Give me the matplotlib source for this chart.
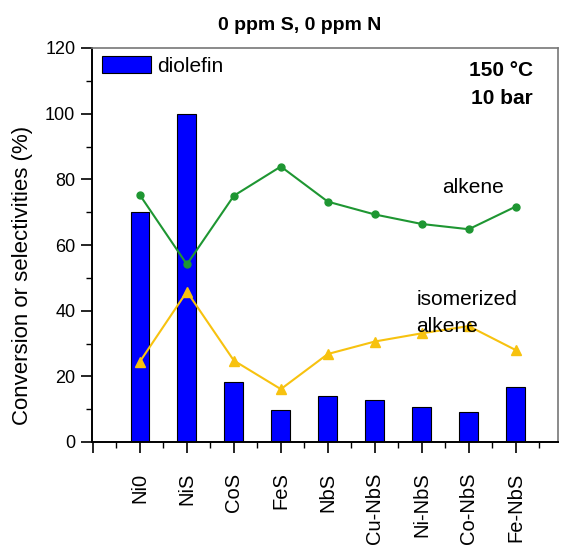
import matplotlib
matplotlib.use("Agg")
import matplotlib.pyplot as plt
import numpy as np

catalysts = ["Ni0", "NiS", "CoS", "FeS", "NbS", "Cu-NbS", "Ni-NbS", "Co-NbS", "Fe-NbS"]
diolefin = [70.0, 99.9, 18.4, 9.7, 14.0, 12.8, 10.8, 9.0, 16.7]
alkene = [75.2, 54.1, 75.0, 83.9, 73.2, 69.3, 66.4, 64.8, 71.7]
isomerized = [24.5, 45.8, 24.8, 16.1, 26.8, 30.6, 33.1, 35.3, 28.0]

plt.rcParams["font.family"] = ["Liberation Sans", "DejaVu Sans"]

W, H = 563, 546
fig = plt.figure(figsize=(W / 100, H / 100), dpi=100)
ax = fig.add_axes([92 / W, 1 - 442 / H, (558 - 92) / W, (442 - 48) / H])

x = np.arange(len(catalysts))
ax.bar(x, diolefin, width=0.4, color="#0000FF", edgecolor="black", linewidth=0.8,
       label="diolefin", zorder=2)
ax.plot(x, alkene, color="#1E9632", marker="o", markersize=5, linewidth=1.5, zorder=3)
ax.plot(x, isomerized, color="#F7C20F", marker="^", markersize=7, linewidth=1.5, zorder=3)

ax.set_xlim(-1.02, 8.9)
ax.set_ylim(0, 120)
ax.set_yticks(np.arange(0, 121, 20))
ax.set_yticks(np.arange(10, 120, 20), minor=True)
ax.set_xticks(np.arange(-1, 9))
ax.set_xticklabels([""] + catalysts, rotation=90, fontsize=14.5)
ax.set_xticks(np.arange(-0.5, 8.9, 1.0), minor=True)
ax.tick_params(axis="y", labelsize=13, direction="out", length=8, width=1.2, pad=4)
ax.tick_params(axis="y", which="minor", direction="out", length=4, width=1)
ax.tick_params(axis="x", direction="out", length=8, width=1.2, pad=14)
ax.tick_params(axis="x", which="minor", direction="out", length=4, width=1)

for side in ("left", "bottom"):
    ax.spines[side].set_linewidth(1.4)
for side in ("top", "right"):
    ax.spines[side].set_color("#777777")
    ax.spines[side].set_linewidth(1.2)

ax.set_ylabel("Conversion or selectivities (%)", fontsize=16)
ax.yaxis.set_label_coords(-0.127, 0.424)

fig.text(300 / W, 1 - 25 / H, "0 ppm S, 0 ppm N", fontsize=14, fontweight="bold",
         ha="center", va="center")

ax.legend(loc="upper left", bbox_to_anchor=(0.012, 0.99), frameon=False, fontsize=15,
          handlelength=2.35, handleheight=0.9, borderpad=0.2, borderaxespad=0,
          handletextpad=0.3)

ax.text(0.946, 0.928, "150 \u00b0C", transform=ax.transAxes, ha="right",
        va="baseline", fontsize=15, fontweight="bold")
ax.text(0.946, 0.859, "10 bar", transform=ax.transAxes, ha="right",
        va="baseline", fontsize=15, fontweight="bold")
ax.text(7.09, 75.8, "alkene", fontsize=15, ha="center", va="baseline")
ax.text(5.89, 41.7, "isomerized", fontsize=15, ha="left", va="baseline")
ax.text(5.89, 33.5, "alkene", fontsize=15, ha="left", va="baseline")

fig.savefig("out.png", dpi=100)
